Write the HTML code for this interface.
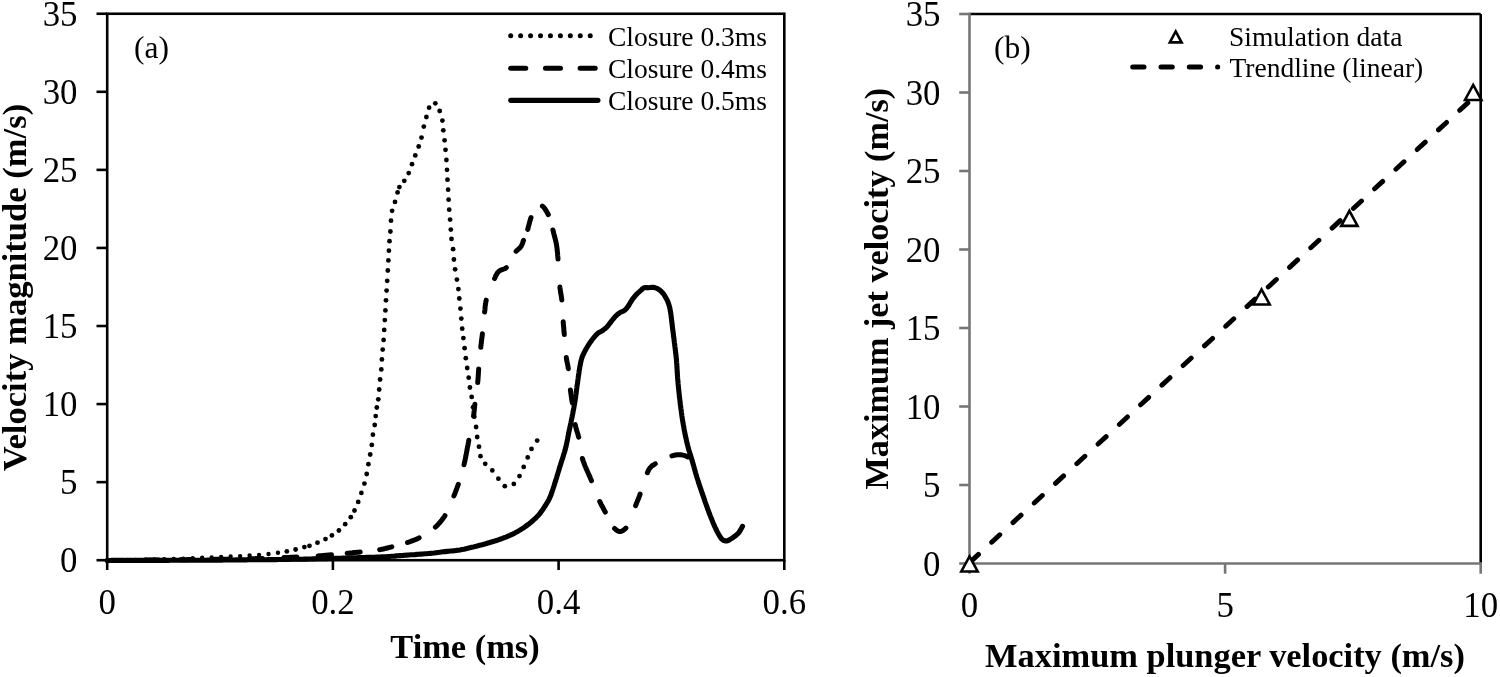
<!DOCTYPE html>
<html><head><meta charset="utf-8"><style>
html,body{margin:0;padding:0;background:#fff;width:1500px;height:677px;overflow:hidden}
svg{display:block;will-change:transform}
text{font-family:"Liberation Serif",serif;fill:#000}
.tk{font-size:34.8px}
.ti{font-size:34.4px;font-weight:bold}
.lg{font-size:27.5px}
.lb{font-size:31.5px}
</style></head><body>
<svg width="1500" height="677" viewBox="0 0 1500 677">
<rect x="107.2" y="13.75" width="677.0999999999999" height="546.45" fill="none" stroke="#000" stroke-width="2.6"/>
<line x1="96.5" y1="560.20" x2="107.2" y2="560.20" stroke="#000" stroke-width="2.6"/>
<text x="77.5" y="572.30" class="tk" text-anchor="end">0</text>
<line x1="96.5" y1="482.14" x2="107.2" y2="482.14" stroke="#000" stroke-width="2.6"/>
<text x="77.5" y="494.24" class="tk" text-anchor="end">5</text>
<line x1="96.5" y1="404.07" x2="107.2" y2="404.07" stroke="#000" stroke-width="2.6"/>
<text x="77.5" y="416.17" class="tk" text-anchor="end">10</text>
<line x1="96.5" y1="326.01" x2="107.2" y2="326.01" stroke="#000" stroke-width="2.6"/>
<text x="77.5" y="338.11" class="tk" text-anchor="end">15</text>
<line x1="96.5" y1="247.94" x2="107.2" y2="247.94" stroke="#000" stroke-width="2.6"/>
<text x="77.5" y="260.04" class="tk" text-anchor="end">20</text>
<line x1="96.5" y1="169.88" x2="107.2" y2="169.88" stroke="#000" stroke-width="2.6"/>
<text x="77.5" y="181.98" class="tk" text-anchor="end">25</text>
<line x1="96.5" y1="91.81" x2="107.2" y2="91.81" stroke="#000" stroke-width="2.6"/>
<text x="77.5" y="103.91" class="tk" text-anchor="end">30</text>
<line x1="96.5" y1="13.75" x2="107.2" y2="13.75" stroke="#000" stroke-width="2.6"/>
<text x="77.5" y="25.85" class="tk" text-anchor="end">35</text>
<line x1="107.20" y1="560.2" x2="107.20" y2="570" stroke="#000" stroke-width="2.6"/>
<text x="107.20" y="614.0" class="tk" text-anchor="middle">0</text>
<line x1="332.90" y1="560.2" x2="332.90" y2="570" stroke="#000" stroke-width="2.6"/>
<text x="332.90" y="614.0" class="tk" text-anchor="middle">0.2</text>
<line x1="558.60" y1="560.2" x2="558.60" y2="570" stroke="#000" stroke-width="2.6"/>
<text x="558.60" y="614.0" class="tk" text-anchor="middle">0.4</text>
<line x1="784.30" y1="560.2" x2="784.30" y2="570" stroke="#000" stroke-width="2.6"/>
<text x="784.30" y="614.0" class="tk" text-anchor="middle">0.6</text>
<text x="465" y="658" class="ti" text-anchor="middle">Time (ms)</text>
<text transform="translate(26,287.6) rotate(-90)" class="ti" style="font-size:34.6px" text-anchor="middle">Velocity magnitude (m/s)</text>
<text x="134" y="58" class="lb">(a)</text>
<path d="M107.2,560.5 L109.2,560.5 L111.1,560.5 L113.1,560.5 L115.1,560.5 L117.1,560.5 L119.0,560.5 L121.0,560.5 L123.0,560.5 L124.9,560.5 L126.9,560.4 L128.8,560.4 L130.8,560.4 L132.8,560.4 L134.7,560.4 L136.7,560.4 L138.7,560.4 L140.6,560.4 L142.6,560.4 L144.5,560.4 L146.5,560.4 L148.5,560.4 L150.4,560.4 L152.4,560.4 L154.4,560.4 L156.3,560.4 L158.3,560.4 L160.3,560.4 L162.2,560.4 L164.2,560.4 L166.2,560.4 L168.2,560.4 L170.1,560.3 L172.1,560.3 L174.1,560.3 L176.1,560.3 L178.0,560.3 L180.0,560.3 L182.0,560.3 L184.0,560.3 L186.0,560.3 L188.0,560.3 L190.0,560.3 L192.0,560.2 L194.0,560.2 L196.0,560.2 L198.0,560.2 L200.0,560.2 L201.9,560.2 L203.9,560.2 L205.8,560.2 L207.8,560.1 L209.8,560.1 L211.7,560.1 L213.7,560.1 L215.7,560.1 L217.7,560.1 L219.8,560.1 L221.8,560.1 L223.8,560.0 L225.8,560.0 L227.9,560.0 L229.9,560.0 L232.0,560.0 L234.0,560.0 L236.0,559.9 L238.1,559.9 L240.1,559.9 L242.2,559.9 L244.2,559.9 L246.3,559.9 L248.3,559.8 L250.3,559.8 L252.4,559.8 L254.4,559.8 L256.4,559.8 L258.4,559.8 L260.4,559.7 L262.5,559.7 L264.4,559.7 L266.4,559.7 L268.4,559.6 L270.4,559.6 L272.3,559.6 L274.3,559.6 L276.2,559.6 L278.1,559.5 L280.0,559.5 L281.9,559.5 L283.8,559.5 L285.7,559.4 L287.5,559.4 L289.4,559.4 L291.2,559.3 L293.0,559.3 L294.8,559.3 L296.5,559.3 L298.3,559.2 L300.0,559.2 L302.2,559.2 L304.3,559.1 L306.5,559.1 L308.7,559.0 L310.8,559.0 L312.9,558.9 L315.0,558.9 L317.1,558.8 L319.2,558.8 L321.3,558.7 L323.3,558.7 L325.4,558.6 L327.4,558.6 L329.4,558.5 L331.4,558.5 L333.3,558.4 L335.3,558.4 L337.2,558.3 L339.1,558.2 L341.0,558.2 L342.9,558.1 L344.7,558.1 L346.5,558.0 L348.3,558.0 L350.0,557.9 L351.8,557.9 L353.5,557.8 L355.2,557.8 L356.8,557.7 L358.4,557.6 L360.0,557.6 L362.2,557.5 L364.4,557.5 L366.5,557.4 L368.5,557.3 L370.5,557.3 L372.5,557.2 L374.4,557.2 L376.3,557.1 L378.1,557.0 L379.9,557.0 L381.6,556.9 L383.3,556.8 L384.9,556.8 L386.5,556.7 L388.0,556.6 L389.9,556.5 L391.6,556.3 L393.2,556.2 L394.7,556.1 L396.3,555.9 L398.0,555.8 L400.0,555.6 L401.5,555.5 L403.2,555.4 L404.9,555.2 L406.8,555.1 L408.7,555.0 L410.7,554.8 L412.7,554.7 L414.8,554.6 L416.9,554.4 L418.9,554.3 L420.9,554.1 L422.9,554.0 L424.8,553.8 L426.7,553.7 L428.4,553.5 L430.0,553.4 L432.1,553.2 L434.1,553.0 L436.0,552.7 L437.8,552.5 L439.6,552.3 L441.4,552.0 L443.2,551.8 L445.0,551.6 L446.9,551.4 L448.7,551.2 L450.6,551.0 L452.5,550.9 L454.4,550.7 L456.2,550.4 L458.1,550.2 L460.0,549.9 L461.9,549.5 L463.9,549.2 L465.9,548.7 L467.8,548.3 L469.8,547.8 L471.7,547.3 L473.6,546.9 L475.4,546.4 L477.2,546.0 L478.9,545.5 L480.6,545.1 L482.2,544.7 L483.9,544.2 L485.5,543.8 L487.2,543.3 L488.9,542.8 L490.6,542.3 L492.3,541.8 L494.0,541.3 L495.7,540.7 L497.4,540.2 L499.1,539.6 L500.8,539.0 L502.5,538.4 L504.2,537.7 L505.9,537.1 L507.6,536.4 L509.2,535.7 L510.9,534.9 L512.6,534.1 L514.4,533.2 L516.1,532.3 L517.8,531.4 L519.5,530.4 L521.1,529.4 L522.7,528.4 L524.4,527.3 L526.0,526.1 L527.6,524.9 L529.2,523.7 L530.7,522.5 L532.1,521.3 L533.6,519.9 L535.1,518.6 L536.5,517.2 L537.9,515.8 L539.2,514.3 L540.3,513.0 L541.3,511.6 L542.3,510.2 L543.3,508.8 L544.2,507.4 L545.1,506.0 L546.1,504.4 L547.1,502.7 L548.1,501.1 L549.0,499.4 L549.8,497.7 L550.5,496.1 L551.1,494.5 L551.7,492.9 L552.2,491.2 L552.8,489.5 L553.3,487.9 L553.9,486.3 L554.4,484.6 L554.9,482.9 L555.5,481.2 L556.0,479.5 L556.6,477.7 L557.1,475.8 L557.7,473.9 L558.2,472.1 L558.8,470.3 L559.3,468.5 L559.8,466.8 L560.4,465.1 L560.9,463.5 L561.4,461.8 L562.0,460.0 L562.5,458.5 L563.0,456.9 L563.5,455.2 L564.0,453.5 L564.6,451.8 L565.1,450.0 L565.5,448.3 L566.0,446.5 L566.4,444.7 L566.8,442.8 L567.2,440.9 L567.6,439.0 L567.9,437.1 L568.3,435.3 L568.6,433.4 L569.0,431.5 L569.4,429.7 L569.8,427.9 L570.2,426.1 L570.6,424.3 L571.0,422.5 L571.3,420.7 L571.7,418.8 L572.1,417.0 L572.4,415.3 L572.8,413.5 L573.1,411.7 L573.4,410.0 L573.8,408.2 L574.1,406.4 L574.4,404.6 L574.7,402.8 L575.0,401.0 L575.3,399.2 L575.6,397.3 L575.8,395.5 L576.1,393.6 L576.3,391.8 L576.5,389.9 L576.8,388.1 L577.0,386.2 L577.3,384.4 L577.6,382.5 L577.8,380.7 L578.1,378.8 L578.3,376.9 L578.6,375.0 L578.9,373.1 L579.1,371.3 L579.4,369.6 L579.7,367.9 L580.0,366.0 L580.4,364.1 L580.7,362.3 L581.1,360.6 L581.6,358.9 L582.1,357.2 L582.7,355.6 L583.5,354.0 L584.2,352.4 L585.1,350.8 L585.9,349.3 L586.8,347.8 L587.7,346.3 L588.7,344.7 L589.7,343.2 L590.7,341.7 L591.7,340.3 L592.7,339.0 L594.0,337.4 L595.3,335.8 L596.7,334.4 L598.0,333.2 L599.5,332.2 L600.9,331.5 L602.4,330.6 L603.9,329.5 L605.4,328.4 L606.8,327.1 L608.0,325.8 L609.1,324.3 L610.2,322.8 L611.3,321.4 L612.4,320.0 L613.5,318.6 L614.6,317.3 L615.7,316.1 L617.1,314.8 L618.6,313.6 L620.1,312.5 L621.6,311.8 L623.2,311.2 L624.6,310.4 L625.9,309.2 L627.0,307.8 L628.1,306.3 L629.0,305.0 L629.8,303.6 L630.7,302.0 L631.6,300.6 L632.5,299.2 L633.6,297.8 L634.7,296.4 L635.8,295.1 L637.0,293.9 L638.5,292.5 L640.0,291.1 L641.4,289.9 L642.7,288.6 L644.1,287.7 L645.4,287.5 L646.9,287.6 L648.5,287.7 L650.3,287.5 L652.1,287.4 L653.8,287.4 L655.3,287.8 L656.8,288.3 L658.2,289.1 L659.8,290.2 L661.3,291.5 L662.7,293.0 L663.7,294.2 L664.6,295.6 L665.4,297.0 L666.2,298.4 L667.0,299.9 L667.7,301.4 L668.3,303.0 L668.9,304.6 L669.3,306.1 L669.7,307.6 L670.0,309.1 L670.3,310.7 L670.6,312.5 L670.9,314.1 L671.1,315.8 L671.3,317.5 L671.5,319.3 L671.7,321.2 L672.0,323.1 L672.2,324.9 L672.4,326.7 L672.6,328.5 L672.8,330.2 L673.1,332.0 L673.3,333.7 L673.5,335.5 L673.7,337.2 L674.0,339.0 L674.2,340.9 L674.4,342.8 L674.7,344.7 L674.9,346.6 L675.2,348.5 L675.4,350.5 L675.6,352.5 L675.9,354.5 L676.1,356.5 L676.3,358.6 L676.5,360.5 L676.6,362.4 L676.8,364.3 L676.9,366.2 L677.0,368.2 L677.1,370.2 L677.2,372.1 L677.4,374.1 L677.5,376.1 L677.6,378.0 L677.8,380.0 L678.0,381.9 L678.1,383.9 L678.3,385.8 L678.5,387.7 L678.7,389.6 L678.9,391.5 L679.1,393.5 L679.3,395.4 L679.5,397.4 L679.8,399.3 L680.0,401.3 L680.2,403.1 L680.4,404.9 L680.7,406.8 L680.9,408.6 L681.2,410.5 L681.4,412.3 L681.7,414.2 L681.9,416.1 L682.2,417.9 L682.5,419.8 L682.8,421.6 L683.1,423.4 L683.4,425.2 L683.8,427.2 L684.1,429.2 L684.5,431.2 L684.9,433.3 L685.3,435.3 L685.7,437.2 L686.2,439.2 L686.6,441.1 L687.0,443.0 L687.5,444.8 L687.9,446.5 L688.4,448.6 L689.0,450.5 L689.6,452.3 L690.1,454.1 L690.7,455.9 L691.3,457.8 L691.9,459.8 L692.4,461.5 L692.9,463.4 L693.5,465.2 L694.0,467.1 L694.5,469.1 L695.1,471.0 L695.6,472.9 L696.2,474.8 L696.7,476.7 L697.3,478.5 L697.9,480.3 L698.4,482.1 L699.0,483.9 L699.6,485.6 L700.2,487.3 L700.8,489.1 L701.4,490.8 L702.0,492.6 L702.6,494.4 L703.2,496.2 L703.9,498.1 L704.5,499.9 L705.1,501.8 L705.8,503.7 L706.5,505.6 L707.2,507.5 L707.8,509.4 L708.5,511.2 L709.2,513.0 L709.9,514.9 L710.6,516.7 L711.4,518.6 L712.1,520.4 L712.8,522.2 L713.6,524.0 L714.3,525.7 L715.1,527.4 L715.9,529.0 L716.8,530.8 L717.7,532.6 L718.6,534.3 L719.6,536.0 L720.6,537.5 L721.5,538.8 L722.5,539.7 L723.8,540.5 L725.1,540.9 L726.5,541.0 L728.2,540.5 L730.0,539.5 L731.8,538.3 L733.2,537.4 L734.6,536.4 L736.0,535.4 L737.3,534.2 L738.5,533.0 L739.7,531.4 L740.6,529.7 L741.6,528.0 L742.5,526.3" fill="none" stroke="#000" stroke-width="5.1" stroke-linejoin="round" stroke-linecap="round"/>
<path d="M111.4,560.3 L111.7,560.3 L113.2,560.2 L114.7,560.2 L116.3,560.2 L117.8,560.2 L119.3,560.2 L120.9,560.2 L122.4,560.2 L123.9,560.2 L124.4,560.2 M145.9,560.0 L147.1,560.0 L148.7,560.0 L150.2,560.0 L151.8,560.0 L153.3,559.9 L154.9,559.9 L156.4,559.9 L157.9,559.9 L158.9,559.9 M180.4,559.7 L180.4,559.7 L181.9,559.7 L183.3,559.7 L184.7,559.7 L186.2,559.7 L187.6,559.6 L189.0,559.6 L190.4,559.6 L191.8,559.6 L193.2,559.6 L193.4,559.6 M214.9,559.3 L215.6,559.3 L217.1,559.3 L218.6,559.3 L220.1,559.3 L221.5,559.2 L223.0,559.2 L224.5,559.2 L225.9,559.2 L227.4,559.2 L227.9,559.2 M249.4,558.8 L250.0,558.8 L251.5,558.7 L252.9,558.7 L254.3,558.7 L255.7,558.6 L257.1,558.6 L258.6,558.5 L260.0,558.5 L261.5,558.5 L262.4,558.4 M283.9,557.6 L284.7,557.6 L286.2,557.5 L287.7,557.5 L289.3,557.4 L290.8,557.3 L292.3,557.3 L293.8,557.2 L295.3,557.1 L296.8,557.1 L296.9,557.1 M318.1,555.9 L319.3,555.8 L320.8,555.7 L322.4,555.6 L323.9,555.4 L325.3,555.3 L326.7,555.2 L328.2,555.1 L329.5,555.0 L330.9,554.8 L331.5,554.8 M347.2,553.3 L347.9,553.2 L349.4,553.1 L350.9,552.9 L352.4,552.8 L354.0,552.6 L355.5,552.5 L357.1,552.3 L358.7,552.2 L360.2,552.0 M379.7,549.7 L380.0,549.6 L381.7,549.3 L383.3,549.0 L384.7,548.6 L386.1,548.3 L387.4,548.0 L388.7,547.6 L390.0,547.3 L391.5,546.9 L391.8,546.8 M407.5,542.5 L408.0,542.3 L409.3,541.9 L410.7,541.4 L412.0,540.9 L413.3,540.4 L414.7,539.9 L416.0,539.4 L417.3,538.8 L418.6,538.2 L419.1,537.9 M435.4,527.1 L436.1,526.4 L437.1,525.4 L438.1,524.4 L439.1,523.3 L440.1,522.2 L441.0,521.1 L441.9,520.0 L442.8,518.8 L443.6,517.6 L444.5,516.5 L445.0,515.6 M453.9,496.0 L454.3,494.9 L454.9,493.5 L455.4,492.2 L455.9,490.8 L456.4,489.5 L456.9,488.2 L457.4,486.8 L457.9,485.4 L458.3,484.3 M464.0,464.8 L464.1,464.3 L464.4,463.0 L464.7,461.7 L465.0,460.4 L465.3,459.0 L465.6,457.6 L465.9,456.1 L466.1,454.7 L466.4,453.2 L466.7,451.8 L467.0,450.3 L467.2,448.8 L467.5,447.3 L467.8,445.8 L468.1,444.4 L468.3,443.0 L468.6,441.5 L468.8,440.2 M473.5,416.1 L473.7,414.9 L473.9,413.6 L474.0,412.2 L474.2,410.8 L474.3,409.5 L474.5,408.1 L474.6,406.8 L474.7,405.4 L474.9,404.2 M477.7,382.4 L477.7,382.1 L477.9,380.6 L478.0,379.2 L478.1,377.7 L478.2,376.2 L478.3,374.8 L478.4,373.3 L478.5,371.9 L478.6,370.4 L478.7,368.9 M480.8,347.2 L480.8,346.6 L481.0,345.2 L481.2,343.7 L481.4,342.2 L481.5,340.7 L481.7,339.3 L481.9,337.8 L482.1,336.3 L482.3,334.9 L482.4,333.8 M484.6,312.1 L484.7,311.2 L484.9,309.8 L485.0,308.4 L485.1,306.9 L485.3,305.5 L485.5,304.1 L485.7,302.7 L486.0,301.3 L486.2,300.1 M494.6,278.5 L495.2,277.2 L495.8,275.8 L496.5,274.5 L497.2,273.3 L497.9,272.3 L498.8,271.3 L500.0,270.5 L501.2,269.9 L502.6,269.5 L504.0,269.0 L505.3,268.4 L506.3,267.7 M516.1,251.2 L516.4,250.9 L517.4,250.0 L518.4,249.2 L519.3,248.4 L520.2,247.5 L521.0,246.5 L521.6,245.4 L522.2,244.2 L522.6,243.0 L523.0,241.7 L523.4,240.4 L523.5,240.3 M527.7,229.3 L528.0,228.5 L528.3,227.2 L528.7,225.7 L529.1,224.2 L529.5,222.7 L529.9,221.2 L530.3,219.8 L530.7,218.4 L531.0,217.6 M542.4,206.1 L543.0,206.6 L543.9,207.5 L544.8,208.6 L545.6,209.9 L546.5,211.3 L547.3,212.7 L548.0,214.1 L548.3,214.6 M552.9,230.0 L553.2,231.0 L553.5,232.3 L553.8,233.6 L554.2,235.0 L554.5,236.4 L554.9,237.6 L555.2,238.9 L555.5,240.1 L555.8,241.4 L556.1,242.8 L556.4,244.3 L556.6,245.5 L556.8,246.9 L557.0,248.2 L557.1,249.7 L557.3,251.1 L557.5,252.6 L557.6,254.2 L557.7,255.7 L557.9,257.3 L558.0,258.9 L558.0,259.0 M559.9,287.1 L560.0,288.1 L560.2,289.5 L560.4,290.9 L560.6,292.3 L560.8,293.6 L561.1,295.0 L561.3,296.4 L561.5,297.7 L561.7,299.1 L561.8,300.1 M563.2,321.8 L563.3,323.0 L563.4,324.5 L563.5,325.9 L563.7,327.4 L563.8,328.8 L563.9,330.3 L564.0,331.8 L564.2,333.3 L564.3,334.6 M566.3,357.5 L566.5,358.8 L566.7,360.3 L567.0,361.7 L567.3,363.1 L567.6,364.6 L567.9,366.0 L568.1,367.4 L568.3,368.7 M570.4,390.0 L570.6,391.3 L570.8,392.8 L571.0,394.2 L571.2,395.7 L571.4,397.1 L571.6,398.6 L571.8,400.1 L572.1,401.6 L572.3,402.9 M575.2,424.6 L575.4,425.5 L575.7,426.9 L576.1,428.2 L576.4,429.5 L576.8,430.8 L577.2,432.0 L577.6,433.3 L578.0,434.6 L578.3,435.9 L578.7,437.2 M582.4,458.5 L582.7,459.5 L583.1,460.8 L583.6,462.1 L584.1,463.5 L584.6,464.8 L585.1,466.2 L585.7,467.5 L586.3,468.9 L586.9,470.2 L587.5,471.6 L588.1,473.0 L588.7,474.3 L589.3,475.6 L589.9,476.9 L590.4,478.2 L591.0,479.5 L591.5,480.7 M599.7,501.5 L599.7,501.5 L600.4,502.8 L601.0,504.1 L601.6,505.3 L602.3,506.6 L603.0,507.8 L603.6,509.1 L604.3,510.3 L605.0,511.6 L605.3,512.1 M614.6,528.4 L614.6,528.4 L615.7,529.5 L616.8,530.4 L618.0,531.1 L619.1,531.5 L620.3,531.6 L621.4,531.3 L622.6,530.8 L623.9,529.9 L625.1,528.9 L625.9,528.1 M635.6,505.6 L636.1,504.5 L636.6,503.1 L637.1,501.8 L637.6,500.5 L638.2,499.2 L638.7,498.0 L639.2,496.6 L639.7,495.3 L640.1,494.2 M647.4,472.7 L647.6,472.2 L648.2,470.9 L648.8,469.6 L649.6,468.5 L650.4,467.4 L651.4,466.4 L652.5,465.5 L653.7,464.8 L654.9,464.0 L655.3,463.8 M671.9,455.9 L672.9,455.6 L674.2,455.3 L675.6,455.0 L677.0,454.8 L678.3,454.7 L679.7,454.7 L681.1,454.8 L682.6,455.1 L684.1,455.4 L685.5,455.8 L686.8,456.3 L687.8,456.8 L687.9,456.9" fill="none" stroke="#000" stroke-width="5" stroke-linejoin="round" stroke-linecap="round"/>
<path d="M107.2,560.3 L150.0,559.6 L180.0,558.8 L219.2,557.0 L238.4,556.2 L251.6,555.4 L264.8,554.4 L273.6,553.4 L282.8,552.1" fill="none" stroke="#000" stroke-width="4.4" stroke-dasharray="0 9.5" stroke-linecap="round"/>
<circle cx="286.8" cy="551.4" r="2.4"/>
<circle cx="295.6" cy="549.5" r="2.4"/>
<circle cx="304.4" cy="547.1" r="2.4"/>
<circle cx="309.5" cy="545.8" r="2.4"/>
<circle cx="317.5" cy="542.7" r="2.4"/>
<circle cx="325.5" cy="539.1" r="2.4"/>
<circle cx="331.9" cy="535.4" r="2.4"/>
<circle cx="338.9" cy="530.5" r="2.4"/>
<circle cx="345.2" cy="524.2" r="2.4"/>
<circle cx="350.8" cy="517.2" r="2.4"/>
<circle cx="354.5" cy="510.5" r="2.4"/>
<circle cx="358.2" cy="501.9" r="2.4"/>
<circle cx="361.4" cy="492.9" r="2.4"/>
<circle cx="364.4" cy="483.6" r="2.4"/>
<circle cx="366.7" cy="474" r="2.4"/>
<circle cx="368.4" cy="464.2" r="2.4"/>
<circle cx="370.2" cy="454.5" r="2.4"/>
<circle cx="371.8" cy="444.9" r="2.4"/>
<circle cx="372.9" cy="434.7" r="2.4"/>
<circle cx="374.7" cy="425" r="2.4"/>
<circle cx="375.7" cy="416.1" r="2.4"/>
<circle cx="376.8" cy="407.5" r="2.4"/>
<circle cx="378.3" cy="399.3" r="2.4"/>
<circle cx="379.2" cy="389.5" r="2.4"/>
<circle cx="380.1" cy="379.5" r="2.4"/>
<circle cx="381.3" cy="369.4" r="2.4"/>
<circle cx="381.9" cy="359.4" r="2.4"/>
<circle cx="382.7" cy="349.6" r="2.4"/>
<circle cx="383.6" cy="339.9" r="2.4"/>
<circle cx="384.2" cy="329.9" r="2.4"/>
<circle cx="384.8" cy="320.1" r="2.4"/>
<circle cx="385.4" cy="310.4" r="2.4"/>
<circle cx="386" cy="300.3" r="2.4"/>
<circle cx="386.6" cy="290.6" r="2.4"/>
<circle cx="387.2" cy="280.8" r="2.4"/>
<circle cx="387.8" cy="270.5" r="2.4"/>
<circle cx="388.4" cy="260.4" r="2.4"/>
<circle cx="388.9" cy="250.7" r="2.4"/>
<circle cx="389.5" cy="241.2" r="2.4"/>
<circle cx="390.4" cy="231.5" r="2.4"/>
<circle cx="391" cy="220.7" r="2.4"/>
<circle cx="392.1" cy="210.8" r="2.4"/>
<circle cx="395" cy="201.9" r="2.4"/>
<circle cx="397.6" cy="192.4" r="2.4"/>
<circle cx="399.4" cy="187.1" r="2.4"/>
<circle cx="404.3" cy="180.8" r="2.4"/>
<circle cx="408.7" cy="173.1" r="2.4"/>
<circle cx="412" cy="164.2" r="2.4"/>
<circle cx="415.3" cy="155.4" r="2.4"/>
<circle cx="418.7" cy="146.5" r="2.4"/>
<circle cx="421.5" cy="137.6" r="2.4"/>
<circle cx="423.8" cy="126.6" r="2.4"/>
<circle cx="426.4" cy="117" r="2.4"/>
<circle cx="429.1" cy="107.7" r="2.4"/>
<circle cx="435.3" cy="103.3" r="2.4"/>
<circle cx="439.7" cy="111" r="2.4"/>
<circle cx="442.4" cy="120.6" r="2.4"/>
<circle cx="443.3" cy="130.3" r="2.4"/>
<circle cx="444.6" cy="140.3" r="2.4"/>
<circle cx="445.5" cy="149.8" r="2.4"/>
<circle cx="446.4" cy="160" r="2.4"/>
<circle cx="447" cy="169.8" r="2.4"/>
<circle cx="447.5" cy="179.7" r="2.4"/>
<circle cx="448.1" cy="189.7" r="2.4"/>
<circle cx="448.6" cy="199.7" r="2.4"/>
<circle cx="449.2" cy="209.7" r="2.4"/>
<circle cx="450.1" cy="219.6" r="2.4"/>
<circle cx="450.8" cy="229.6" r="2.4"/>
<circle cx="451.5" cy="238.9" r="2.4"/>
<circle cx="453.1" cy="249.2" r="2.4"/>
<circle cx="453.9" cy="259.5" r="2.4"/>
<circle cx="455.1" cy="269.3" r="2.4"/>
<circle cx="456.9" cy="279.6" r="2.4"/>
<circle cx="458.4" cy="289.1" r="2.4"/>
<circle cx="459.3" cy="298.5" r="2.4"/>
<circle cx="460.4" cy="308.6" r="2.4"/>
<circle cx="461.3" cy="318.6" r="2.4"/>
<circle cx="462.2" cy="328.7" r="2.4"/>
<circle cx="463.4" cy="338.1" r="2.4"/>
<circle cx="464.6" cy="348.2" r="2.4"/>
<circle cx="465.8" cy="358.2" r="2.4"/>
<circle cx="467.2" cy="368" r="2.4"/>
<circle cx="468.7" cy="377.7" r="2.4"/>
<circle cx="469.9" cy="387.5" r="2.4"/>
<circle cx="471.7" cy="396.9" r="2.4"/>
<circle cx="473.1" cy="407.2" r="2.4"/>
<circle cx="474.3" cy="416.7" r="2.4"/>
<circle cx="476.1" cy="427" r="2.4"/>
<circle cx="477.2" cy="437" r="2.4"/>
<circle cx="479" cy="446.7" r="2.4"/>
<circle cx="480.5" cy="456.2" r="2.4"/>
<circle cx="485.2" cy="463.8" r="2.4"/>
<circle cx="492.3" cy="470.4" r="2.4"/>
<circle cx="498.4" cy="478.7" r="2.4"/>
<circle cx="504.8" cy="486.2" r="2.4"/>
<circle cx="513.8" cy="483.9" r="2.4"/>
<circle cx="519.5" cy="476.1" r="2.4"/>
<circle cx="523.7" cy="466.9" r="2.4"/>
<circle cx="527.7" cy="457.4" r="2.4"/>
<circle cx="531.5" cy="448.9" r="2.4"/>
<circle cx="537.2" cy="440.6" r="2.4"/>
<circle cx="510.70" cy="35.7" r="2.5"/>
<circle cx="520.64" cy="35.7" r="2.5"/>
<circle cx="530.58" cy="35.7" r="2.5"/>
<circle cx="540.52" cy="35.7" r="2.5"/>
<circle cx="550.46" cy="35.7" r="2.5"/>
<circle cx="560.40" cy="35.7" r="2.5"/>
<circle cx="570.34" cy="35.7" r="2.5"/>
<circle cx="580.28" cy="35.7" r="2.5"/>
<circle cx="590.22" cy="35.7" r="2.5"/>
<line x1="510.7" y1="68.3" x2="595.4" y2="68.3" stroke="#000" stroke-width="5" stroke-dasharray="15.1 19.6" stroke-linecap="round"/>
<line x1="510.8" y1="100.3" x2="597.9" y2="100.3" stroke="#000" stroke-width="5.2" stroke-linecap="round"/>
<text x="608" y="45.60" class="lg">Closure 0.3ms</text>
<text x="608" y="77.55" class="lg">Closure 0.4ms</text>
<text x="608" y="109.50" class="lg">Closure 0.5ms</text>
<line x1="969.5" y1="14.0" x2="1480.7" y2="14.0" stroke="#000" stroke-width="2.6"/>
<line x1="1480.7" y1="14.0" x2="1480.7" y2="563.5" stroke="#000" stroke-width="2.6"/>
<line x1="969.5" y1="12.7" x2="969.5" y2="563.5" stroke="#767676" stroke-width="2.6"/>
<line x1="969.5" y1="563.5" x2="1482.0" y2="563.5" stroke="#767676" stroke-width="2.6"/>
<line x1="959.2" y1="563.50" x2="969.5" y2="563.50" stroke="#767676" stroke-width="2.6"/>
<text x="940.5" y="575.70" class="tk" text-anchor="end">0</text>
<line x1="959.2" y1="485.00" x2="969.5" y2="485.00" stroke="#767676" stroke-width="2.6"/>
<text x="940.5" y="497.20" class="tk" text-anchor="end">5</text>
<line x1="959.2" y1="406.50" x2="969.5" y2="406.50" stroke="#767676" stroke-width="2.6"/>
<text x="940.5" y="418.70" class="tk" text-anchor="end">10</text>
<line x1="959.2" y1="328.00" x2="969.5" y2="328.00" stroke="#767676" stroke-width="2.6"/>
<text x="940.5" y="340.20" class="tk" text-anchor="end">15</text>
<line x1="959.2" y1="249.50" x2="969.5" y2="249.50" stroke="#767676" stroke-width="2.6"/>
<text x="940.5" y="261.70" class="tk" text-anchor="end">20</text>
<line x1="959.2" y1="171.00" x2="969.5" y2="171.00" stroke="#767676" stroke-width="2.6"/>
<text x="940.5" y="183.20" class="tk" text-anchor="end">25</text>
<line x1="959.2" y1="92.50" x2="969.5" y2="92.50" stroke="#767676" stroke-width="2.6"/>
<text x="940.5" y="104.70" class="tk" text-anchor="end">30</text>
<line x1="959.2" y1="14.00" x2="969.5" y2="14.00" stroke="#767676" stroke-width="2.6"/>
<text x="940.5" y="26.20" class="tk" text-anchor="end">35</text>
<line x1="969.50" y1="563.5" x2="969.50" y2="573.7" stroke="#767676" stroke-width="2.6"/>
<text x="969.50" y="617.4" class="tk" text-anchor="middle">0</text>
<line x1="1225.10" y1="563.5" x2="1225.10" y2="573.7" stroke="#767676" stroke-width="2.6"/>
<text x="1225.10" y="617.4" class="tk" text-anchor="middle">5</text>
<line x1="1480.70" y1="563.5" x2="1480.70" y2="573.7" stroke="#767676" stroke-width="2.6"/>
<text x="1480.70" y="617.4" class="tk" text-anchor="middle">10</text>
<text x="1225" y="666.7" class="ti" text-anchor="middle">Maximum plunger velocity (m/s)</text>
<text transform="translate(888,288.7) rotate(-90)" class="ti" style="font-size:34.2px" text-anchor="middle">Maximum jet velocity (m/s)</text>
<text x="994" y="58" class="lb">(b)</text>
<line x1="970.4" y1="561.87" x2="1473.2" y2="97.84" stroke="#000" stroke-width="4.9" stroke-dasharray="11 17.95" stroke-linecap="round"/>
<path d="M969.50,556.40 L977.70,571.50 L961.30,571.50 Z" fill="#fff" stroke="#000" stroke-width="2.6" stroke-linejoin="miter"/>
<path d="M1261.50,289.40 L1269.70,304.50 L1253.30,304.50 Z" fill="#fff" stroke="#000" stroke-width="2.6" stroke-linejoin="miter"/>
<path d="M1349.40,210.80 L1357.60,225.90 L1341.20,225.90 Z" fill="#fff" stroke="#000" stroke-width="2.6" stroke-linejoin="miter"/>
<path d="M1473.20,84.90 L1481.40,100.00 L1465.00,100.00 Z" fill="#fff" stroke="#000" stroke-width="2.6" stroke-linejoin="miter"/>
<path d="M1175.70,31.49 L1181.60,42.36 L1169.80,42.36 Z" fill="#fff" stroke="#000" stroke-width="2.6" stroke-linejoin="miter"/>
<text x="1229" y="45.9" class="lg">Simulation data</text>
<line x1="1132.7" y1="67.1" x2="1217.7" y2="67.1" stroke="#000" stroke-width="5" stroke-dasharray="11.3 17" stroke-linecap="round"/>
<text x="1229.5" y="77.1" class="lg">Trendline (linear)</text>
</svg>
</body></html>
